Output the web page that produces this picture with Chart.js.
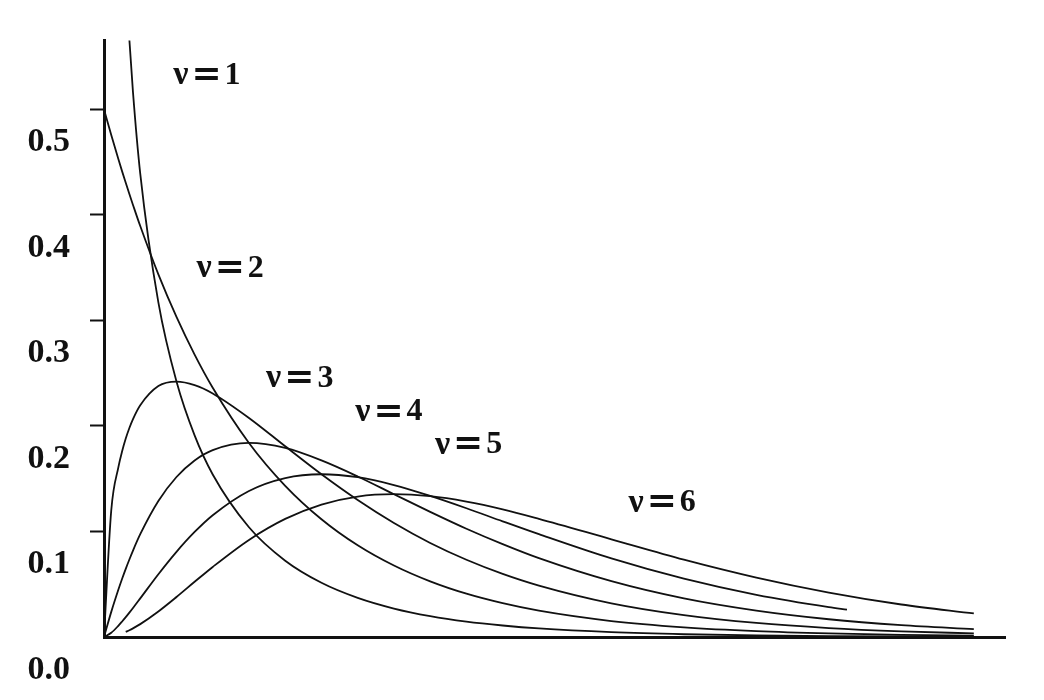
<!DOCTYPE html>
<html>
<head>
<meta charset="utf-8">
<script src="https://cdn.jsdelivr.net/npm/chart.js@4/dist/chart.umd.min.js"></script>
<style>
  html, body { margin: 0; padding: 0; background: #fff; }
  #grafico { display: block; }
</style>
</head>
<body>
<canvas id="grafico" width="1044" height="700"></canvas>
<script>
// valores de x (comuns a todas as curvas)
const xs = [0, 0.1, 0.2, 0.25, 0.3, 0.35, 0.4, 0.5, 0.75, 1, 1.25, 1.5, 2, 2.5, 3, 3.5,
            4, 4.5, 5, 5.5, 6, 7, 8, 9, 10, 10.25, 11, 12];

// densidades (null = curva não desenhada nesse ponto)
const nu1 = [null, null, null, 0.704, 0.627, 0.566, 0.516, 0.439, 0.317, 0.242, 0.191, 0.154,
             0.104, 0.0723, 0.0514, 0.0371, 0.0270, 0.0198, 0.0146, 0.0109, 0.0081, 0.0046,
             0.0026, 0.0015, 0.00085, null, 0.0005, 0.0003];
const nu2 = [0.5, 0.4756, 0.4524, 0.4412, 0.4304, 0.4197, 0.4094, 0.3894, 0.3436, 0.3033,
             0.2676, 0.2362, 0.1839, 0.1433, 0.1116, 0.0869, 0.0677, 0.0527, 0.0410, 0.0320,
             0.0249, 0.0151, 0.0092, 0.0056, 0.0034, null, 0.0020, 0.0012];
const nu3 = [0, 0.120, 0.1614, 0.176, 0.188, 0.198, 0.2065, 0.2196, 0.2378, 0.2420, 0.2387,
             0.2308, 0.2076, 0.1807, 0.1542, 0.1298, 0.1080, 0.0891, 0.0732, 0.0598, 0.0487,
             0.0319, 0.0207, 0.0133, 0.0085, null, 0.0054, 0.0034];
const nu4 = [0, 0.0238, 0.0452, 0.0552, 0.0646, 0.0734, 0.0819, 0.0974, 0.1289, 0.1516,
             0.1673, 0.1771, 0.1839, 0.1791, 0.1673, 0.1521, 0.1353, 0.1186, 0.1026, 0.0880,
             0.0747, 0.0529, 0.0366, 0.0250, 0.0168, null, 0.0112, 0.0074];
const nu5 = [0, 0.0040, 0.0108, 0.0147, 0.0188, 0.0231, 0.0275, 0.0366, 0.0595, 0.0807,
             0.0995, 0.1154, 0.1384, 0.1506, 0.1542, 0.1514, 0.1440, 0.1337, 0.1220, 0.1096,
             0.0974, 0.0744, 0.0552, 0.0399, 0.0283, 0.0260, null, null];
const nu6 = [null, null, null, null, 0.0048, 0.0064, 0.0082, 0.0122, 0.0242, 0.0379, 0.0523,
             0.0664, 0.0920, 0.1119, 0.1255, 0.1331, 0.1353, 0.1334, 0.1283, 0.1210, 0.1120,
             0.0926, 0.0733, 0.0563, 0.0421, null, 0.0308, 0.0223];

// rótulos das curvas e onde ficam (coordenadas de dados)
const rotulos = ['ν=1', 'ν=2', 'ν=3', 'ν=4', 'ν=5', 'ν=6'];
const rotuloX = [1.42, 1.74, 2.70, 3.93, 5.03, 7.70];
const rotuloY = [0.532, 0.349, 0.245, 0.213, 0.182, 0.127];

const yTicks = [0, 0.1, 0.2, 0.3, 0.4, 0.5];

const series = [nu1, nu2, nu3, nu4, nu5, nu6];

function pontos(ys) {
  return xs.map((x, i) => ({ x, y: ys[i] })).filter(p => p.y !== null);
}

const FONTE = '"Liberation Serif", "Times New Roman", serif';
const FONTE_IGUAL = '"DejaVu Serif", serif';

/* rótulos ν=k desenhados sobre o gráfico
   (o "=" do original é bem largo, por isso vai noutra fonte) */
const pluginRotulos = {
  id: 'rotulos',
  afterDatasetsDraw(chart) {
    const { ctx, scales: { x, y } } = chart;
    const gap = 3;
    ctx.save();
    ctx.fillStyle = '#111';
    ctx.textAlign = 'left';
    ctx.textBaseline = 'middle';
    rotulos.forEach((t, i) => {
      const partes = [
        { s: t[0], f: 'bold 34px ' + FONTE },
        { s: t[1], f: 'bold 36px ' + FONTE_IGUAL },
        { s: t.slice(2), f: 'bold 32px ' + FONTE }
      ];
      partes.forEach(p => { ctx.font = p.f; p.w = ctx.measureText(p.s).width; });
      const total = partes.reduce((a, p) => a + p.w, 0) + gap * 2;
      let px = x.getPixelForValue(rotuloX[i]) - total / 2;
      const py = y.getPixelForValue(rotuloY[i]);
      partes.forEach(p => {
        ctx.font = p.f;
        ctx.fillText(p.s, px, py);
        px += p.w + gap;
      });
    });
    ctx.restore();
  }
};

new Chart(document.getElementById('grafico'), {
  type: 'line',
  data: {
    datasets: series.map((s, i) => ({
      label: rotulos[i],
      data: pontos(s),
      borderColor: '#111',
      borderWidth: 1.8,
      pointRadius: 0,
      fill: false,
      cubicInterpolationMode: 'monotone'
    }))
  },
  options: {
    responsive: false,
    animation: false,
    layout: { padding: { top: 40, right: 39, left: 0, bottom: 0 } },
    plugins: {
      legend: { display: false },
      tooltip: { enabled: false }
    },
    scales: {
      x: {
        type: 'linear',
        min: 0,
        max: 12.43,
        grid: { display: false },
        ticks: { display: false },
        border: { display: true, color: '#111', width: 3 },
        afterFit: s => { s.height = 63; }
      },
      y: {
        min: 0,
        max: 0.5653,
        afterBuildTicks: s => { s.ticks = yTicks.map(v => ({ value: v })); },
        grid: {
          drawOnChartArea: false,
          drawTicks: true,
          tickLength: 14,
          tickWidth: 2,
          tickColor: c => (c.tick && c.tick.value === 0) ? 'rgba(0,0,0,0)' : '#111'
        },
        border: { display: true, color: '#111', width: 3 },
        ticks: {
          padding: 20,
          labelOffset: 33,
          color: '#111',
          font: { family: FONTE, size: 34, weight: 'bold' },
          callback: v => v.toFixed(1)
        },
        afterFit: s => { s.width = 104; }
      }
    }
  },
  plugins: [pluginRotulos]
});
</script>
</body>
</html>
